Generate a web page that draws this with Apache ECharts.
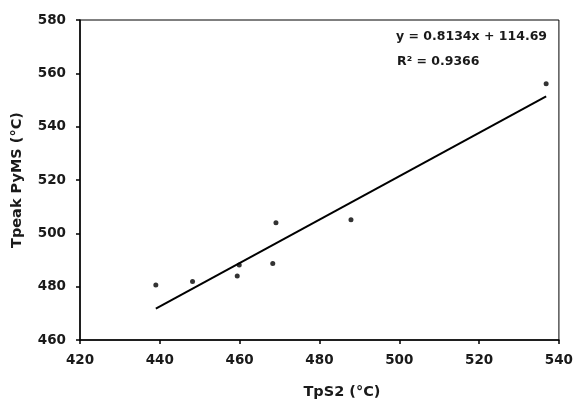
<!DOCTYPE html>
<html><head><meta charset="utf-8">
<script src="https://cdn.jsdelivr.net/npm/echarts@6/dist/echarts.min.js"></script>
<style>html,body{margin:0;padding:0;background:#fff}#c{width:576px;height:405px}</style>
</head><body><div id="c"></div>
<script>
const tpS2 = [439.0, 448.2, 459.4, 459.9, 468.3, 469.1, 487.9, 536.8];
const tpeakPyMS = [480.6, 481.9, 484.0, 488.1, 488.7, 504.0, 505.1, 556.1];
const trendSlope = 0.8134;
const trendIntercept = 114.69;
const rSquared = 0.9366;
const xTicks = [420, 440, 460, 480, 500, 520, 540];
const yTicks = [460, 480, 500, 520, 540, 560, 580];

const points = tpS2.map((x, i) => [x, tpeakPyMS[i]]);
const xMin = Math.min(...tpS2), xMax = Math.max(...tpS2);
const trend = [xMin, xMax].map(x => [x, trendSlope * x + trendIntercept]);

const chart = echarts.init(document.getElementById('c'), null, {renderer: 'canvas'});
const font = '"DejaVu Sans", sans-serif';
const txt = '#1a1a1a';
chart.setOption({
  animation: false,
  grid: {left: 80, right: 17, top: 20, bottom: 62, show: true, borderColor: '#000', borderWidth: 1},
  xAxis: {
    type: 'value', min: xTicks[0], max: xTicks[xTicks.length - 1], interval: 20,
    name: 'TpS2 (°C)', nameLocation: 'middle', nameGap: 45,
    nameTextStyle: {fontFamily: font, fontWeight: 'bold', fontSize: 14.5, color: txt, padding: [0, 0, 0, 45]},
    axisLine: {lineStyle: {color: '#000', width: 1.5}},
    axisTick: {show: true, inside: false, length: 4, lineStyle: {color: '#000', width: 1.5}},
    axisLabel: {fontFamily: font, fontWeight: 'bold', fontSize: 13.5, color: txt, margin: 13},
    splitLine: {show: false}
  },
  yAxis: {
    type: 'value', min: yTicks[0], max: yTicks[yTicks.length - 1], interval: 20,
    name: 'Tpeak PyMS (°C)', nameLocation: 'middle', nameGap: 55,
    nameTextStyle: {fontFamily: font, fontWeight: 'bold', fontSize: 14.5, color: txt},
    axisLine: {show: true, lineStyle: {color: '#000', width: 1.5}},
    axisTick: {show: true, inside: false, length: 4, lineStyle: {color: '#000', width: 1.5}},
    axisLabel: {fontFamily: font, fontWeight: 'bold', fontSize: 13.5, color: txt, margin: 14},
    splitLine: {show: false}
  },
  series: [
    {type: 'scatter', data: points, symbol: 'circle', symbolSize: 5, itemStyle: {color: '#000'}, z: 3},
    {type: 'line', data: trend, symbol: 'none', lineStyle: {color: '#000', width: 2}, z: 2}
  ],
  graphic: [
    {type: 'text', left: 396, top: 30, style: {text: 'y = ' + trendSlope + 'x + ' + trendIntercept, font: 'bold 12.5px ' + font, fill: txt}},
    {type: 'text', left: 397, top: 55, style: {text: 'R² = ' + rSquared, font: 'bold 12.5px ' + font, fill: txt}}
  ]
});
</script></body></html>
